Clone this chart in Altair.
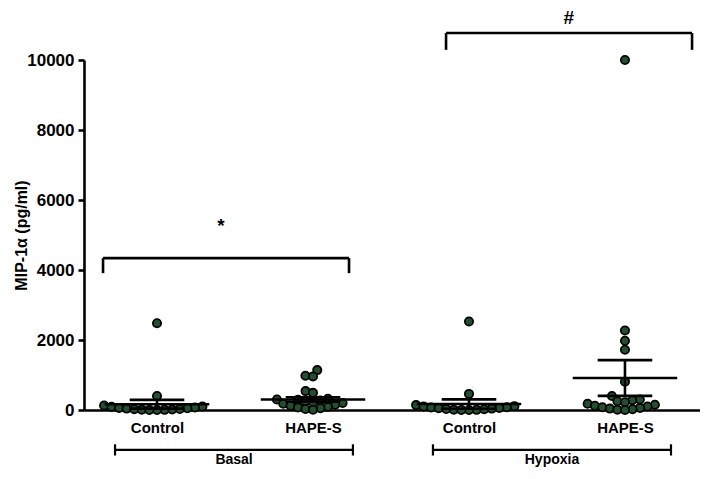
import altair as alt
import pandas as pd
import numpy as np

# ---------------- data ----------------
group_names = ["Basal Control", "Basal HAPE-S", "Hypoxia Control", "Hypoxia HAPE-S"]
tick_labels = ["Control", "HAPE-S", "Control", "HAPE-S"]
conditions = ["Basal", "Hypoxia"]

basal_control = [2480, 400, 130, 100, 90, 70, 60, 50, 40, 30, 20, 15, 10, 5, 0, 0]
basal_hape = [1140, 980, 960, 540, 490, 320, 300, 290, 270, 250, 230, 200, 180, 150,
              120, 90, 70, 50, 30, 10]
hypoxia_control = [2530, 460, 140, 110, 100, 80, 70, 60, 50, 40, 30, 20, 10, 5, 0, 0]
hypoxia_hape = [10000, 2270, 1980, 1720, 810, 400, 300, 280, 250, 220, 180, 150, 120,
                100, 80, 60, 40, 20, 10, 0]

means = [165, 300, 170, 915]
sems = [125, 65, 135, 510]

y_ticks = [0, 2000, 4000, 6000, 8000, 10000]
sig_labels = ["*", "#"]

# ---------------- layout constants ----------------
W, H = 616, 350
X_DOMAIN = [-0.468, 3.481]
Y_DOMAIN = [0, 10000]
PX_PER_UNIT = W / (X_DOMAIN[1] - X_DOMAIN[0])
PX_PER_VAL = H / (Y_DOMAIN[1] - Y_DOMAIN[0])
FONT = "Liberation Sans"
FILL = "#22502f"


def beeswarm(values, dia=7.6):
    """Deterministic beeswarm offsets (pixels) for one column."""
    offsets = [0.0] * len(values)
    placed = []
    for i in np.argsort(values, kind="stable"):
        y = values[i] * PX_PER_VAL
        intervals = []
        for xj, yj in placed:
            dy = abs(y - yj)
            if dy < dia:
                dx = (dia ** 2 - dy ** 2) ** 0.5
                intervals.append((xj - dx, xj + dx))
        cands = [0.0] + [a for a, b in intervals] + [b for a, b in intervals]
        best = 0.0
        for c in sorted(cands, key=lambda c: (round(abs(c), 6), c)):
            if all(not (a + 1e-6 < c < b - 1e-6) for a, b in intervals):
                best = c
                break
        offsets[i] = best
        placed.append((best, y))
    return offsets


rows = []
for gi, vals in enumerate([basal_control, basal_hape, hypoxia_control, hypoxia_hape]):
    offs = beeswarm(vals)
    for v, o in zip(vals, offs):
        rows.append({"group": group_names[gi], "value": v, "xpos": gi + o / PX_PER_UNIT})
points = pd.DataFrame(rows)

stats = pd.DataFrame({
    "idx": list(range(4)),
    "mean": means,
    "sem": sems,
})
stats["lo"] = stats["mean"] - stats["sem"]
stats["hi"] = stats["mean"] + stats["sem"]
stats["m1"] = stats["idx"] - 0.335
stats["m2"] = stats["idx"] + 0.335
stats["c1"] = stats["idx"] - 0.175
stats["c2"] = stats["idx"] + 0.175
caps = pd.concat([
    stats[["idx", "c1", "c2"]].assign(y=stats["lo"]),
    stats[["idx", "c1", "c2"]].assign(y=stats["hi"]),
])

# significance brackets (annotation)
brackets = pd.DataFrame({
    "label": sig_labels,
    "x1": [-0.346, 1.853],
    "x2": [1.231, 3.430],
    "ytop": [4340, 10770],
    "ybot": [3910, 10290],
    "ytext": [5260, 11200],
    "xtext": [0.41, 2.64],
})
bracket_h = pd.DataFrame({"x": brackets["x1"], "x2": brackets["x2"], "y": brackets["ytop"]})
bracket_v = pd.concat([
    pd.DataFrame({"x": brackets["x1"], "y": brackets["ytop"], "y2": brackets["ybot"]}),
    pd.DataFrame({"x": brackets["x2"], "y": brackets["ytop"], "y2": brackets["ybot"]}),
])

# condition group lines below the axis (annotation)
cond = pd.DataFrame({
    "label": conditions,
    "x1": [-0.269, 1.769],
    "x2": [1.256, 3.295],
    "xc": [0.494, 2.532],
})
COND_Y = -1140
cond_v = pd.concat([
    pd.DataFrame({"x": cond["x1"]}),
    pd.DataFrame({"x": cond["x2"]}),
])
cond_v["y"] = COND_Y - 160
cond_v["y2"] = COND_Y + 160
cond["y"] = COND_Y
cond["ytext"] = -1430

label_expr = "[" + ",".join("'%s'" % t for t in tick_labels) + "][datum.value]"

xscale = alt.Scale(domain=X_DOMAIN, nice=False, zero=False)
yscale = alt.Scale(domain=Y_DOMAIN, nice=False)

x_axis = alt.Axis(
    values=[0, 1, 2, 3], labelExpr=label_expr, title=None, ticks=False, grid=False,
    domainColor="black", domainWidth=2.6, labelFontSize=15, labelFontWeight="bold",
    labelColor="black", labelPadding=10, labelFont=FONT, labelFlush=False,
)
y_axis = alt.Axis(
    values=y_ticks, format="d", title="MIP-1\u03b1 (pg/ml)", grid=False,
    domainColor="black", domainWidth=2.6, tickColor="black", tickWidth=2.6, tickSize=6,
    labelFontSize=17, labelFontWeight="bold", labelColor="black", labelPadding=4,
    labelFont=FONT, titleFont=FONT, titleFontSize=16, titleFontWeight="bold",
    titleColor="black", titleX=-63, titleY=H / 2, titleAngle=270,
    titleAlign="center", titleBaseline="middle",
)

pts = alt.Chart(points).mark_circle(
    size=68, color=FILL, stroke="black", strokeWidth=1.8, opacity=1
).encode(
    x=alt.X("xpos:Q", scale=xscale, axis=x_axis),
    y=alt.Y("value:Q", scale=yscale, axis=y_axis),
)

mean_bar = alt.Chart(stats).mark_rule(color="black", strokeWidth=2.6).encode(
    x=alt.X("m1:Q", scale=xscale), x2="m2:Q",
    y=alt.Y("mean:Q", scale=yscale)
)
sem_v = alt.Chart(stats).mark_rule(color="black", strokeWidth=2.6).encode(
    x=alt.X("idx:Q", scale=xscale),
    y=alt.Y("lo:Q", scale=yscale), y2="hi:Q"
)
sem_cap = alt.Chart(caps).mark_rule(color="black", strokeWidth=2.6).encode(
    x=alt.X("c1:Q", scale=xscale), x2="c2:Q",
    y=alt.Y("y:Q", scale=yscale)
)

br_h = alt.Chart(bracket_h).mark_rule(color="black", strokeWidth=2.6).encode(
    x=alt.X("x:Q", scale=xscale), x2="x2:Q",
    y=alt.Y("y:Q", scale=yscale)
)
br_v = alt.Chart(bracket_v).mark_rule(color="black", strokeWidth=2.6).encode(
    x=alt.X("x:Q", scale=xscale),
    y=alt.Y("y:Q", scale=yscale), y2="y2:Q"
)
br_t = alt.Chart(brackets).mark_text(
    font=FONT, fontWeight="bold", fontSize=19, color="black", baseline="middle"
).encode(
    x=alt.X("xtext:Q", scale=xscale),
    y=alt.Y("ytext:Q", scale=yscale), text="label:N",
)

cd_h = alt.Chart(cond).mark_rule(color="black", strokeWidth=2.2).encode(
    x=alt.X("x1:Q", scale=xscale), x2="x2:Q",
    y=alt.Y("y:Q", scale=yscale)
)
cd_v = alt.Chart(cond_v).mark_rule(color="black", strokeWidth=2.2).encode(
    x=alt.X("x:Q", scale=xscale),
    y=alt.Y("y:Q", scale=yscale), y2="y2:Q"
)
cd_t = alt.Chart(cond).mark_text(
    font=FONT, fontSize=14, fontWeight="bold", color="black", baseline="middle"
).encode(
    x=alt.X("xc:Q", scale=xscale),
    y=alt.Y("ytext:Q", scale=yscale), text="label:N"
)

chart = alt.layer(
    pts, mean_bar, sem_v, sem_cap, br_h, br_v, br_t, cd_h, cd_v, cd_t
).properties(
    width=W, height=H,
    background="white",
    autosize=alt.AutoSizeParams(type="none"),
    padding={"left": 76, "top": 52, "right": 0, "bottom": 57},
).configure_view(strokeWidth=0).configure_axis(grid=False)

chart.save("out.html", embed_options={"renderer": "svg", "actions": False})
